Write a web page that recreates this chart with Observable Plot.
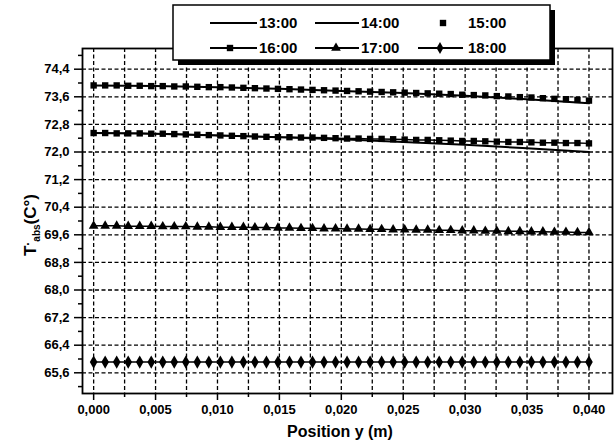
<!DOCTYPE html>
<html>
<head>
<meta charset="utf-8">
<script src="https://cdn.jsdelivr.net/npm/d3@7"></script>
<script src="https://cdn.jsdelivr.net/npm/@observablehq/plot@0.6"></script>
<style>
  body { margin: 0; background: #fff; }
  #chart svg { display: block; }
</style>
</head>
<body>
<div id="chart"></div>
<script>
// Absorber temperature along the channel, one series per hour of the day.
const nPoints = 44;
const positions = d3.range(nPoints).map(i => i * 0.04 / (nPoints - 1)); // y (m), measurement grid
const coarsePositions = [0, 0.005, 0.010, 0.015, 0.020, 0.025, 0.030, 0.035, 0.040];

const t1300 = [73.93, 73.91, 73.88, 73.83, 73.77, 73.71, 73.63, 73.53, 73.41];
const t1400 = [72.55, 72.53, 72.48, 72.43, 72.37, 72.29, 72.21, 72.11, 72.00];
const t1500 = [73.93, 73.93, 73.93, 73.92, 73.92, 73.91, 73.91, 73.90, 73.90, 73.89, 73.88,
               73.88, 73.87, 73.86, 73.85, 73.84, 73.83, 73.82, 73.81, 73.80, 73.79, 73.78,
               73.77, 73.76, 73.75, 73.74, 73.73, 73.72, 73.71, 73.70, 73.69, 73.68, 73.66,
               73.65, 73.64, 73.62, 73.61, 73.59, 73.58, 73.56, 73.54, 73.53, 73.51, 73.49];
const t1600 = [72.55, 72.55, 72.54, 72.54, 72.54, 72.53, 72.53, 72.52, 72.51, 72.50, 72.49,
               72.48, 72.47, 72.46, 72.45, 72.44, 72.43, 72.43, 72.42, 72.42, 72.41, 72.40,
               72.39, 72.39, 72.38, 72.38, 72.37, 72.36, 72.35, 72.35, 72.34, 72.33, 72.32,
               72.32, 72.31, 72.30, 72.29, 72.29, 72.28, 72.27, 72.27, 72.26, 72.26, 72.25];
const t1700 = [69.86, 69.86, 69.86, 69.85, 69.85, 69.85, 69.84, 69.84, 69.84, 69.83, 69.83,
               69.82, 69.82, 69.82, 69.81, 69.81, 69.80, 69.80, 69.79, 69.79, 69.78, 69.78,
               69.77, 69.77, 69.76, 69.76, 69.75, 69.75, 69.74, 69.74, 69.73, 69.73, 69.72,
               69.72, 69.71, 69.71, 69.70, 69.70, 69.69, 69.69, 69.68, 69.68, 69.67, 69.67];
const t1800 = [65.91, 65.91, 65.91, 65.91, 65.91, 65.91, 65.91, 65.91, 65.91, 65.91, 65.91,
               65.91, 65.91, 65.91, 65.91, 65.91, 65.91, 65.91, 65.91, 65.91, 65.91, 65.91,
               65.91, 65.91, 65.91, 65.91, 65.91, 65.91, 65.91, 65.91, 65.91, 65.91, 65.91,
               65.91, 65.91, 65.91, 65.91, 65.91, 65.91, 65.91, 65.91, 65.91, 65.91, 65.91];

const yTicks = [65.6, 66.4, 67.2, 68.0, 68.8, 69.6, 70.4, 71.2, 72.0, 72.8, 73.6, 74.4];
const yMinor = [65.2, 66.0, 66.8, 67.6, 68.4, 69.2, 70.0, 70.8, 71.6, 72.4, 73.2, 74.0, 74.8];
const xTicks = [0, 0.005, 0.010, 0.015, 0.020, 0.025, 0.030, 0.035, 0.040];
const xMinor = [0.0025, 0.0075, 0.0125, 0.0175, 0.0225, 0.0275, 0.0325, 0.0375];

const legendLabels = ["13:00", "14:00", "15:00", "16:00", "17:00", "18:00"];

const rows = (xs, vs) => vs.map((v, i) => ({x: xs[i], y: v}));
const s1300 = rows(coarsePositions, t1300);
const s1400 = rows(coarsePositions, t1400);
const s1500 = rows(positions, t1500);
const s1600 = rows(positions, t1600);
const s1700 = rows(positions, t1700);
const s1800 = rows(positions, t1800);

const comma = digits => d => d.toFixed(digits).replace(".", ",");
const gridStyle = {stroke: "#000", strokeOpacity: 1, strokeWidth: 1.3, strokeDasharray: "4 2.5"};
const markR = 3.6;

const chart = Plot.plot({
  width: 614,
  height: 446,
  marginLeft: 82,
  marginRight: 2,
  marginTop: 48,
  marginBottom: 53,
  style: {fontFamily: "'Liberation Sans', Arial, sans-serif", fontSize: "13px", fontWeight: "bold", color: "#000", background: "#fff"},
  x: {domain: [-0.0009, 0.0419]},
  y: {domain: [65, 75]},
  marks: [
    Plot.gridX(xTicks.concat(xMinor), gridStyle),
    Plot.gridY(yTicks, gridStyle),
    Plot.frame({stroke: "#000", strokeWidth: 1.8}),
    Plot.axisY(yTicks, {tickSize: 8, tickPadding: 5, tickFormat: comma(1), strokeWidth: 1.5, label: null}),
    Plot.axisY(yMinor, {tickSize: 4, tickFormat: () => "", strokeWidth: 1.5, label: null}),
    Plot.axisX(xTicks, {tickSize: 7, tickPadding: 4, tickFormat: comma(3), strokeWidth: 1.5, label: null}),
    Plot.axisX(xMinor, {tickSize: 4, tickFormat: () => "", strokeWidth: 1.5, label: null}),
    // 13:00 and 14:00: plain lines
    Plot.line(s1300, {x: "x", y: "y", stroke: "#000", strokeWidth: 2}),
    Plot.line(s1400, {x: "x", y: "y", stroke: "#000", strokeWidth: 2}),
    // 15:00: squares only
    Plot.dot(s1500, {x: "x", y: "y", symbol: "square", r: markR, fill: "#000"}),
    // 16:00 – 18:00: line with markers
    Plot.line(s1600, {x: "x", y: "y", stroke: "#000", strokeWidth: 1.5}),
    Plot.dot(s1600, {x: "x", y: "y", symbol: "square", r: markR, fill: "#000"}),
    Plot.line(s1700, {x: "x", y: "y", stroke: "#000", strokeWidth: 1.5}),
    Plot.dot(s1700, {x: "x", y: "y", symbol: "triangle", r: markR, fill: "#000"}),
    Plot.line(s1800, {x: "x", y: "y", stroke: "#000", strokeWidth: 1.5}),
    Plot.dot(s1800, {x: "x", y: "y", symbol: "diamond", r: markR + 0.4, fill: "#000"})
  ]
});

document.getElementById("chart").appendChild(chart);

const svg = d3.select(chart);
const font = "'Liberation Sans', Arial, sans-serif";

// Axis titles
svg.append("text")
  .attr("x", 340).attr("y", 437)
  .attr("text-anchor", "middle")
  .attr("font-family", font).attr("font-size", 16).attr("font-weight", "bold")
  .attr("fill", "#000")
  .text("Position y (m)");

const yTitle = svg.append("text")
  .attr("transform", "translate(36,225) rotate(-90)")
  .attr("text-anchor", "middle")
  .attr("font-family", font).attr("font-size", 17).attr("font-weight", "bold")
  .attr("fill", "#000");
yTitle.append("tspan").text("T");
yTitle.append("tspan").attr("font-size", 12).attr("dy", -4).text("·");
yTitle.append("tspan").attr("font-size", 10).attr("dy", 8).text("abs");
yTitle.append("tspan").attr("dy", -4).text("(C°)");

// Legend box with drop shadow
const lg = svg.append("g").attr("transform", "translate(173,5)");
lg.append("rect").attr("x", 5).attr("y", 5).attr("width", 377).attr("height", 55).attr("fill", "#000");
lg.append("rect").attr("width", 377).attr("height", 55)
  .attr("fill", "#fff").attr("stroke", "#000").attr("stroke-width", 1.5);

const legendItems = [
  {label: legendLabels[0], row: 18, x0: 37, x1: 84, tx: 86, line: true, symbol: null},
  {label: legendLabels[1], row: 18, x0: 142, x1: 186, tx: 188, line: true, symbol: null},
  {label: legendLabels[2], row: 18, x0: 245, x1: 290, tx: 295, line: false, symbol: d3.symbolSquare, sx: 270},
  {label: legendLabels[3], row: 43, x0: 37, x1: 84, tx: 86, line: true, symbol: d3.symbolSquare, sx: 57},
  {label: legendLabels[4], row: 43, x0: 142, x1: 186, tx: 188, line: true, symbol: d3.symbolTriangle, sx: 163},
  {label: legendLabels[5], row: 43, x0: 245, x1: 290, tx: 295, line: true, symbol: d3.symbolDiamond, sx: 267}
];
const symSize = Math.PI * markR * markR;
for (const it of legendItems) {
  if (it.line) {
    lg.append("line").attr("x1", it.x0).attr("x2", it.x1).attr("y1", it.row).attr("y2", it.row)
      .attr("stroke", "#000").attr("stroke-width", 1.8);
  }
  if (it.symbol) {
    lg.append("path").attr("transform", `translate(${it.sx},${it.row})`)
      .attr("d", d3.symbol(it.symbol, symSize)()).attr("fill", "#000");
  }
  lg.append("text").attr("x", it.tx).attr("y", it.row).attr("dy", "0.36em")
    .attr("text-anchor", "start")
    .attr("font-family", font).attr("font-size", 15).attr("font-weight", "bold")
    .attr("fill", "#000").text(it.label);
}
</script>
</body>
</html>
